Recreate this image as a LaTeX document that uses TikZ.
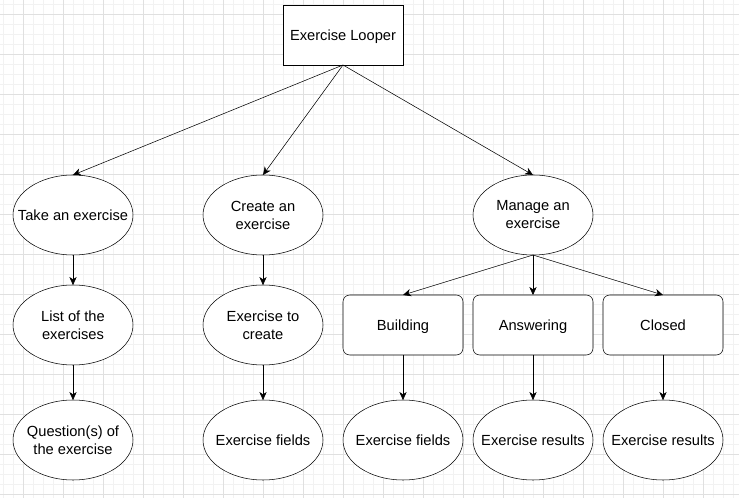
\documentclass[tikz,border=0pt]{standalone}
\usepackage{fontspec}
\setmainfont{Liberation Sans}
\usetikzlibrary{shapes.geometric,arrows.meta}
\definecolor{minorgrid}{HTML}{F2F2F2}
\definecolor{majorgrid}{HTML}{E0E0E0}

\begin{document}
\begin{tikzpicture}[x=0.75pt, y=-0.75pt,
  every node/.style={font=\fontsize{11}{13.5}\selectfont, align=center, inner sep=0pt, outer sep=0pt},
  oval/.style={draw, ellipse, thin, inner xsep=-25pt, inner ysep=-10pt, minimum width=90pt, minimum height=60pt},
  statebox/.style={draw, rounded corners=5pt, thin, text height=10pt, text depth=1.5pt, minimum width=90pt, minimum height=45pt},
  rootbox/.style={draw, thin, text height=10pt, text depth=1.5pt, minimum width=90pt, minimum height=45pt},
  link/.style={draw, thin, -{Stealth[length=6pt, width=5.5pt, inset=1.8pt]}}]
\useasboundingbox (0,0) rectangle (739,498);
\fill[white] (0,0) rectangle (739,498);

% background grid
\foreach \x in {3.3,13.3,...,739} \draw[minorgrid, line width=0.75pt] (\x,0) -- (\x,498);
\foreach \y in {5,15,...,498} \draw[minorgrid, line width=0.75pt] (0,\y) -- (739,\y);
\foreach \x in {23.3,63.3,...,739} \draw[majorgrid, line width=0.75pt] (\x,0) -- (\x,498);
\foreach \y in {15,55,...,498} \draw[majorgrid, line width=0.75pt] (0,\y) -- (739,\y);

\node[rootbox, fill=white] (looper) at (343,35) {Exercise Looper};

\node[oval, fill=white] (take) at (73,215) {Take an exercise};
\node[oval, fill=white] (create) at (263,215) {Create an\\exercise};
\node[oval, fill=white] (manage) at (533,215) {Manage an\\exercise};

\node[oval, fill=white] (list) at (73,325) {List of the\\exercises};
\node[oval, fill=white] (tocreate) at (263,325) {Exercise to\\create};
\node[statebox, fill=white] (building) at (403,325) {Building};
\node[statebox, fill=white] (answering) at (533,325) {Answering};
\node[statebox, fill=white] (closed) at (663,325) {Closed};

\node[oval, fill=white] (question) at (73,440) {Question(s) of\\the exercise};
\node[oval, fill=white] (fields) at (263,440) {Exercise fields};
\node[oval, fill=white] (bfields) at (403,440) {Exercise fields};
\node[oval, fill=white] (aresults) at (533,440) {Exercise results};
\node[oval, fill=white] (cresults) at (663,440) {Exercise results};

\draw[link] (looper.south) -- (take.north);
\draw[link] (looper.south) -- (create.north);
\draw[link] (looper.south) -- (manage.north);
\draw[link] (take) -- (list);
\draw[link] (list) -- (question);
\draw[link] (create) -- (tocreate);
\draw[link] (tocreate) -- (fields);
\draw[link] (manage.south) -- (building.north);
\draw[link] (manage.south) -- (answering.north);
\draw[link] (manage.south) -- (closed.north);
\draw[link] (building) -- (bfields);
\draw[link] (answering) -- (aresults);
\draw[link] (closed) -- (cresults);
\end{tikzpicture}
\end{document}
